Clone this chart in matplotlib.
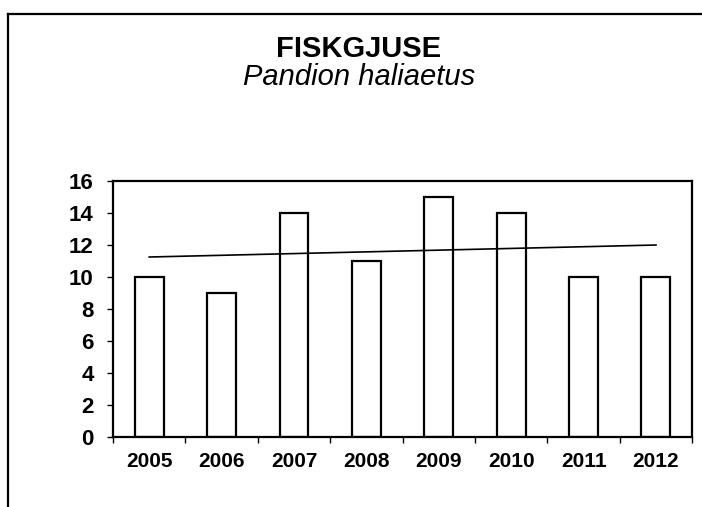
import numpy as np
import matplotlib.pyplot as plt
from matplotlib.lines import Line2D

years = ['2005', '2006', '2007', '2008', '2009', '2010', '2011', '2012']
counts = [10, 9, 14, 11, 15, 14, 10, 10]

plt.rcParams['font.family'] = ['Liberation Sans', 'DejaVu Sans']

fig = plt.figure(figsize=(7.02, 5.07), dpi=100)
ax = fig.add_axes([0.161, 0.138, 0.825, 0.505])

x = np.arange(len(years))
ax.bar(x, counts, width=0.4, color='white', edgecolor='black', linewidth=1.6)

# linear trend line
k, m = np.polyfit(x, counts, 1)
ax.plot(x, k * x + m, color='black', linewidth=1.2)

ax.set_xlim(-0.5, len(years) - 0.5)
ax.set_ylim(0, 16)
ax.set_yticks(range(0, 17, 2))
ax.set_xticks(x)
ax.set_xticklabels(years, fontsize=15, fontweight='bold')
ax.set_xticks(np.arange(-0.5, len(years)), minor=True)
ax.tick_params(axis='x', which='major', length=0, pad=11)
ax.tick_params(axis='x', which='minor', length=4, width=1, direction='out')
ax.tick_params(axis='y', length=4, width=1, direction='out', labelsize=16, pad=10)
for lab in ax.get_yticklabels():
    lab.set_fontweight('bold')
for s in ax.spines.values():
    s.set_linewidth(1.6)

fig.text(0.511, 0.8876, 'FISKGJUSE', ha='center', va='baseline', fontsize=21, fontweight='bold')
fig.text(0.511, 0.8323, 'Pandion haliaetus', ha='center', va='baseline', fontsize=21, style='italic')

# chart frame (left and top edges)
fig.add_artist(Line2D([0.0114, 0.0114], [0.0, 0.972], color='black', linewidth=1.6, transform=fig.transFigure))
fig.add_artist(Line2D([0.0114, 1.0], [0.972, 0.972], color='black', linewidth=1.6, transform=fig.transFigure))

fig.savefig('out.png', dpi=100)
